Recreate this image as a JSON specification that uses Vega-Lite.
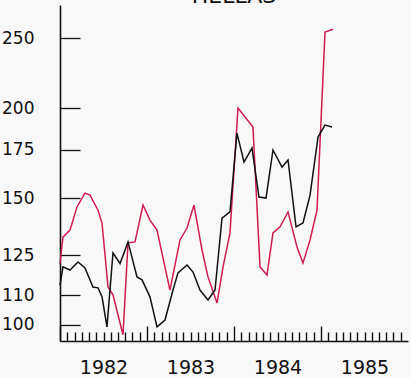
{
  "$schema": "https://vega.github.io/schema/vega-lite/v6.json",
  "width": 348,
  "height": 336,
  "autosize": {"type": "none"},
  "padding": {"left": 60, "top": 5, "right": 3, "bottom": 37},
  "background": "#f8f8f8",
  "title": {"text": "HELLAS", "font": "DejaVu Sans", "fontSize": 22, "fontWeight": "normal", "color": "#111", "anchor": "middle", "frame": "group", "offset": 0, "baseline": "alphabetic", "dy": 20},
  "config": {"view": {"stroke": null}},
  "data": {"values": [
    {"series": "red", "t": 1982.000, "v": 121.7},
    {"series": "red", "t": 1982.034, "v": 132.4},
    {"series": "red", "t": 1982.115, "v": 135.4},
    {"series": "red", "t": 1982.195, "v": 145.8},
    {"series": "red", "t": 1982.287, "v": 152.4},
    {"series": "red", "t": 1982.345, "v": 151.4},
    {"series": "red", "t": 1982.437, "v": 144.3},
    {"series": "red", "t": 1982.483, "v": 138.5},
    {"series": "red", "t": 1982.552, "v": 112.9},
    {"series": "red", "t": 1982.609, "v": 110.1},
    {"series": "red", "t": 1982.724, "v": 96.9},
    {"series": "red", "t": 1982.782, "v": 130.0},
    {"series": "red", "t": 1982.862, "v": 130.4},
    {"series": "red", "t": 1982.954, "v": 146.7},
    {"series": "red", "t": 1983.034, "v": 139.8},
    {"series": "red", "t": 1983.115, "v": 135.4},
    {"series": "red", "t": 1983.264, "v": 111.8},
    {"series": "red", "t": 1983.379, "v": 131.2},
    {"series": "red", "t": 1983.460, "v": 136.3},
    {"series": "red", "t": 1983.540, "v": 146.7},
    {"series": "red", "t": 1983.632, "v": 127.1},
    {"series": "red", "t": 1983.701, "v": 116.6},
    {"series": "red", "t": 1983.805, "v": 107.3},
    {"series": "red", "t": 1983.874, "v": 120.4},
    {"series": "red", "t": 1983.954, "v": 134.2},
    {"series": "red", "t": 1984.046, "v": 200.0},
    {"series": "red", "t": 1984.218, "v": 188.2},
    {"series": "red", "t": 1984.299, "v": 120.4},
    {"series": "red", "t": 1984.379, "v": 117.3},
    {"series": "red", "t": 1984.448, "v": 134.2},
    {"series": "red", "t": 1984.529, "v": 136.8},
    {"series": "red", "t": 1984.621, "v": 143.5},
    {"series": "red", "t": 1984.724, "v": 128.3},
    {"series": "red", "t": 1984.793, "v": 121.9},
    {"series": "red", "t": 1984.874, "v": 131.2},
    {"series": "red", "t": 1984.954, "v": 144.3},
    {"series": "red", "t": 1985.046, "v": 254.9},
    {"series": "red", "t": 1985.138, "v": 257.3},
    {"series": "black", "t": 1982.000, "v": 113.6},
    {"series": "black", "t": 1982.034, "v": 120.4},
    {"series": "black", "t": 1982.115, "v": 119.2},
    {"series": "black", "t": 1982.207, "v": 122.3},
    {"series": "black", "t": 1982.287, "v": 120.0},
    {"series": "black", "t": 1982.379, "v": 112.9},
    {"series": "black", "t": 1982.437, "v": 112.6},
    {"series": "black", "t": 1982.483, "v": 109.4},
    {"series": "black", "t": 1982.540, "v": 99.4},
    {"series": "black", "t": 1982.609, "v": 125.9},
    {"series": "black", "t": 1982.690, "v": 121.7},
    {"series": "black", "t": 1982.782, "v": 130.4},
    {"series": "black", "t": 1982.885, "v": 116.6},
    {"series": "black", "t": 1982.943, "v": 115.5},
    {"series": "black", "t": 1983.034, "v": 109.4},
    {"series": "black", "t": 1983.115, "v": 99.4},
    {"series": "black", "t": 1983.207, "v": 101.6},
    {"series": "black", "t": 1983.299, "v": 111.8},
    {"series": "black", "t": 1983.356, "v": 118.1},
    {"series": "black", "t": 1983.460, "v": 121.1},
    {"series": "black", "t": 1983.529, "v": 118.4},
    {"series": "black", "t": 1983.609, "v": 111.8},
    {"series": "black", "t": 1983.701, "v": 108.3},
    {"series": "black", "t": 1983.782, "v": 111.8},
    {"series": "black", "t": 1983.862, "v": 140.7},
    {"series": "black", "t": 1983.954, "v": 143.5},
    {"series": "black", "t": 1984.034, "v": 184.6},
    {"series": "black", "t": 1984.115, "v": 168.3},
    {"series": "black", "t": 1984.207, "v": 176.0},
    {"series": "black", "t": 1984.287, "v": 150.5},
    {"series": "black", "t": 1984.368, "v": 150.0},
    {"series": "black", "t": 1984.448, "v": 174.9},
    {"series": "black", "t": 1984.552, "v": 165.6},
    {"series": "black", "t": 1984.621, "v": 169.4},
    {"series": "black", "t": 1984.713, "v": 136.8},
    {"series": "black", "t": 1984.793, "v": 138.5},
    {"series": "black", "t": 1984.874, "v": 151.4},
    {"series": "black", "t": 1984.966, "v": 182.3},
    {"series": "black", "t": 1985.046, "v": 189.4},
    {"series": "black", "t": 1985.126, "v": 188.2}
  ]},
  "mark": {"type": "line", "strokeWidth": 1.5, "strokeJoin": "miter"},
  "encoding": {
    "x": {
      "field": "t", "type": "quantitative",
      "scale": {"domain": [1982, 1986], "nice": false, "zero": false},
      "axis": {
        "title": null, "grid": false,
        "values": [1982, 1982.0833, 1982.1667, 1982.25, 1982.3333, 1982.4167, 1982.5, 1982.5833, 1982.6667, 1982.75, 1982.8333, 1982.9167,
                   1983, 1983.0833, 1983.1667, 1983.25, 1983.3333, 1983.4167, 1983.5, 1983.5833, 1983.6667, 1983.75, 1983.8333, 1983.9167,
                   1984, 1984.0833, 1984.1667, 1984.25, 1984.3333, 1984.4167, 1984.5, 1984.5833, 1984.6667, 1984.75, 1984.8333, 1984.9167,
                   1985, 1985.0833, 1985.1667, 1985.25, 1985.3333, 1985.4167, 1985.5, 1985.5833, 1985.6667, 1985.75, 1985.8333, 1985.9167],
        "labelExpr": "abs(datum.value - floor(datum.value) - 0.5) < 0.01 ? '' + floor(datum.value) : ''",
        "labelFont": "DejaVu Sans", "labelFontSize": 19, "labelColor": "#111",
        "labelPadding": 26, "labelBaseline": "top", "labelFlush": false, "labelOverlap": false,
        "tickSize": {"condition": {"test": "abs(datum.value - round(datum.value)) < 0.01", "value": -15}, "value": -9},
        "tickColor": "#111", "tickWidth": 1.4,
        "domainColor": "#111", "domainWidth": 1.6
      }
    },
    "y": {
      "field": "v", "type": "quantitative",
      "scale": {"type": "log", "domain": [95, 278], "nice": false, "zero": false},
      "axis": {
        "title": null, "grid": false,
        "values": [100, 110, 125, 150, 175, 200, 250],
        "labelFont": "DejaVu Sans", "labelFontSize": 17, "labelColor": "#111",
        "tickSize": -20, "labelPadding": 46, "tickColor": "#111", "tickWidth": 1.3,
        "domainColor": "#111", "domainWidth": 1.6, "labelFlush": false, "labelOverlap": false
      }
    },
    "color": {
      "field": "series", "type": "nominal",
      "scale": {"domain": ["red", "black"], "range": ["#d01c4e", "#111111"]},
      "legend": null
    }
  }
}
